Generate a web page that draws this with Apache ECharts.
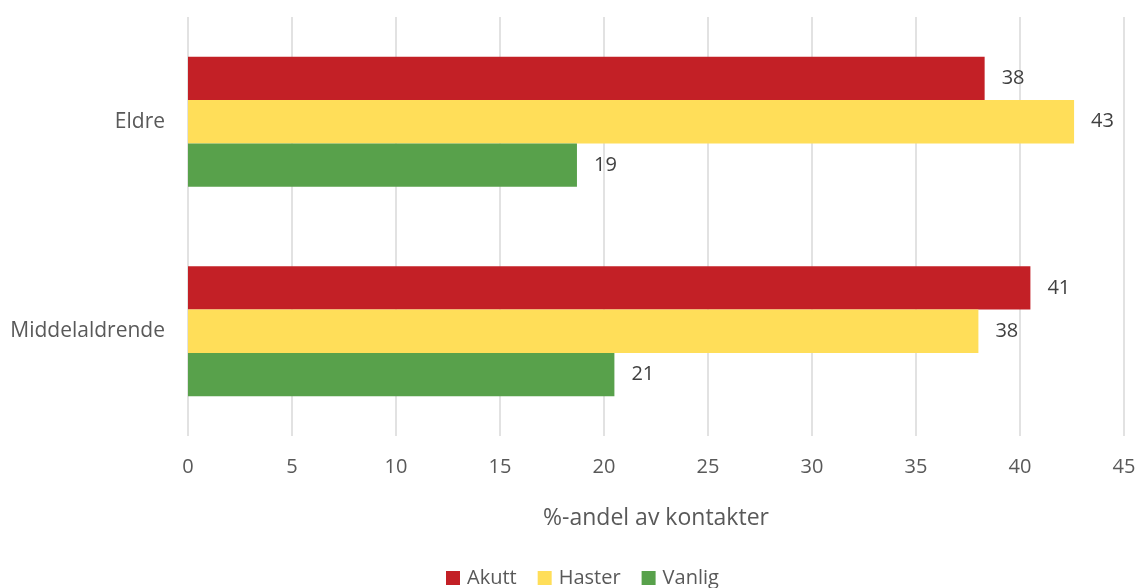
<!DOCTYPE html>
<html>
<head>
<meta charset="utf-8">
<script src="https://cdn.jsdelivr.net/npm/echarts@6/dist/echarts.min.js"></script>
<style>
  html, body { margin: 0; padding: 0; background: #fff; }
  #chart { width: 1140px; height: 588px; }
</style>
</head>
<body>
<div id="chart"></div>
<script>
// data
var categories = ['Eldre', 'Middelaldrende'];
var akutt = [38.3, 40.5];
var haster = [42.6, 38.0];
var vanlig = [18.7, 20.5];
var xTicks = { min: 0, max: 45, interval: 5 };

var font = '"Open Sans", sans-serif';
var myChart = echarts.init(document.getElementById('chart'));

function barSeries(name, data, color) {
  return {
    name: name,
    type: 'bar',
    data: data,
    barWidth: 43.3,
    barGap: '0%',
    itemStyle: { color: color },
    label: {
      show: true,
      position: 'right',
      distance: 17,
      color: '#404040',
      fontSize: 20,
      fontFamily: font,
      formatter: function (p) { return Math.round(p.value); }
    }
  };
}

var option = {
  animation: false,
  textStyle: { fontFamily: font },
  grid: { left: 188, right: 16, top: 17, bottom: 152 },
  legend: {
    top: 563,
    left: 441,
    itemWidth: 14,
    itemHeight: 14,
    itemGap: 21,
    icon: 'rect',
    textStyle: { color: '#595959', fontSize: 20, fontFamily: font, padding: [0, 0, 0, 2] },
    data: ['Akutt', 'Haster', 'Vanlig']
  },
  xAxis: {
    type: 'value',
    min: xTicks.min,
    max: xTicks.max,
    interval: xTicks.interval,
    name: '%-andel av kontakter',
    nameLocation: 'middle',
    nameGap: 71,
    nameTextStyle: { color: '#595959', fontSize: 23, fontFamily: font },
    axisLine: { show: false },
    axisTick: { show: false },
    axisLabel: { color: '#595959', fontSize: 20, margin: 21, fontFamily: font },
    splitLine: { lineStyle: { color: '#d9d9d9', width: 1.5 } }
  },
  yAxis: {
    type: 'category',
    data: categories,
    inverse: true,
    axisLine: { show: false },
    axisTick: { show: false },
    axisLabel: { color: '#595959', fontSize: 21, margin: 23, fontFamily: font }
  },
  series: [
    barSeries('Akutt', akutt, '#c32026'),
    barSeries('Haster', haster, '#ffde59'),
    barSeries('Vanlig', vanlig, '#58a14b')
  ]
};

myChart.setOption(option);
</script>
</body>
</html>
